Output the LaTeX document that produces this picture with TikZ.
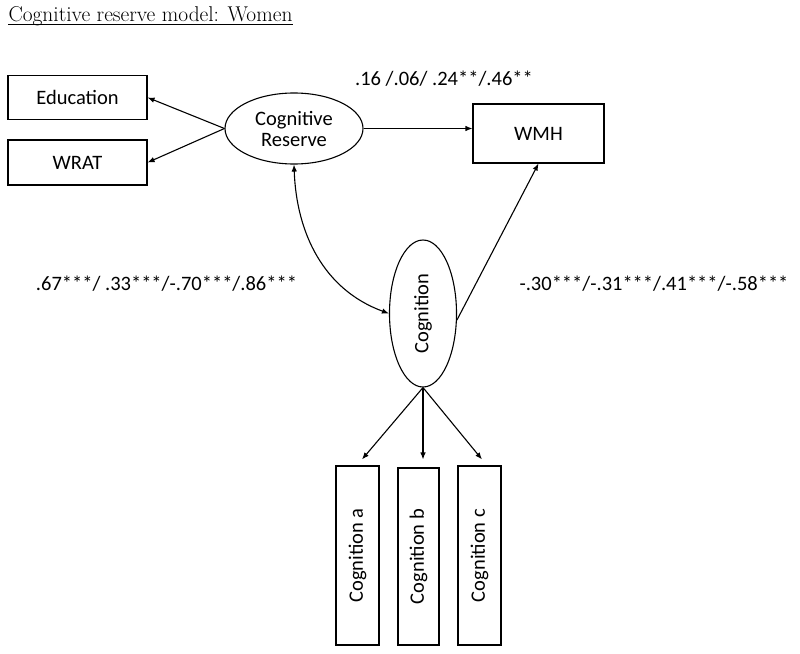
\documentclass[tikz,border=0pt]{standalone}
\usepackage{fontspec}
\setsansfont{Carlito}
\usetikzlibrary{shapes.geometric,arrows.meta,calc}
\begin{document}
\begin{tikzpicture}[x=1pt,y=-1pt,
  every path/.style={line width=1.1pt},
  lbl/.style={font=\sffamily\fontsize{20.5}{24}\selectfont, inner sep=0pt, anchor=base},
  obs/.style={draw, rectangle, inner sep=0pt, font=\sffamily\fontsize{20.5}{24}\selectfont},
  lat/.style={draw, ellipse, inner sep=0pt, align=center, font=\sffamily\fontsize{20.5}{24}\selectfont},
  arr/.style={-{Latex[length=7pt,width=5.5pt]}},
  darr/.style={{Latex[length=7pt,width=5.5pt]}-{Latex[length=7pt,width=5.5pt]}}
]
\useasboundingbox (0,0) rectangle (800,653);

\node[anchor=base west, inner sep=0pt, font=\fontsize{21.4}{24}\selectfont] (title) at (8,21) {Cognitive reserve model: Women};
\draw[line width=0.8pt] ($(title.base west)+(0,3)$) -- ($(title.base east)+(0,3)$);

\node[obs, minimum width=139pt, minimum height=44pt] (edu) at (77.5,97.5) {Education};
\node[obs, minimum width=139pt, minimum height=45pt] (wrat) at (77.5,162.5) {WRAT};
\node[lat, minimum width=138pt, minimum height=71pt] (cr) at (294,128.5) {Cognitive\\[-3pt]Reserve};
\node[obs, minimum width=131pt, minimum height=59pt] (wmh) at (538.5,133.5) {WMH};
\node[lat, minimum width=67pt, minimum height=147pt] (cog) at (423,313.5) {\rotatebox{90}{Cognition}};

\node[obs, minimum width=43pt, minimum height=179pt] (ca) at (357.5,555.5) {\rotatebox{90}{Cognition a}};
\node[obs, minimum width=41pt, minimum height=177pt] (cb) at (418.5,556.5) {\rotatebox{90}{Cognition b}};
\node[obs, minimum width=43pt, minimum height=179pt] (cc) at (479.5,555.5) {\rotatebox{90}{Cognition c}};

\node[lbl] (l1) at (444,85) {.16 /.06/ .24**/.46**};
\node[lbl] (l2) at (166.5,290) {.67***/ .33***/-.70***/.86***};
\node[lbl] (l3) at (654,290) {-.30***/-.31***/.41***/-.58***};

\coordinate (ta) at ($(ca.north)+(4.5,-6)$);
\coordinate (tb) at ($(cog.south |- cb.north)+(0,-8)$);
\coordinate (tc) at ($(cc.north)+(2.5,-6)$);

\draw[arr] (cr.west) -- (edu.east);
\draw[arr] (cr.west) -- (wrat.east);
\draw[arr] (cr.east) -- (cr.east -| wmh.west);
\draw[darr] (cr.south) to[out=-88,in=160] (cog.west);
\draw[arr] (cog.-11) -- (wmh.south);
\draw[arr] (cog.south) -- (ta);
\draw[arr] (cog.south) -- (tb);
\draw[arr] (cog.south) -- (tc);
\end{tikzpicture}
\end{document}
